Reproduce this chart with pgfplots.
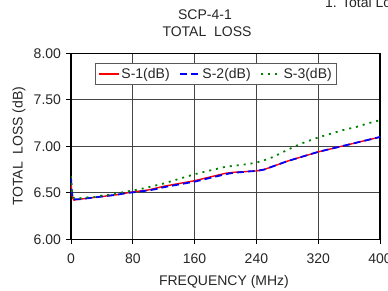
\documentclass[border=0pt]{standalone}
\usepackage{pgfplots}
\pgfplotsset{compat=1.18}
\usepackage{fontspec}
\setmainfont{Liberation Sans}
\definecolor{txt}{HTML}{262626}
\definecolor{gridc}{HTML}{444444}
\definecolor{sgreen}{HTML}{008000}
\newcommand\cf{\fontsize{14}{16.5}\selectfont}
\pgfplotstableread{
f v
0 6.62
1 6.50
2 6.45
3 6.43
4 6.42
6 6.425
10 6.43
20 6.44
30 6.45
40 6.46
50 6.47
60 6.48
70 6.495
80 6.51
90 6.52
100 6.53
110 6.55
120 6.57
130 6.585
140 6.60
150 6.615
160 6.63
170 6.65
180 6.67
190 6.69
200 6.71
210 6.72
220 6.725
230 6.73
240 6.735
250 6.75
260 6.78
270 6.81
280 6.84
290 6.865
300 6.89
310 6.915
320 6.94
330 6.96
340 6.98
350 7.00
360 7.02
370 7.04
380 7.06
390 7.08
400 7.10
}\sone
\pgfplotstableread{
f v
0 6.66
1 6.52
2 6.46
3 6.44
4 6.43
6 6.43
10 6.43
20 6.44
30 6.45
40 6.46
50 6.47
60 6.48
70 6.495
80 6.505
90 6.515
100 6.525
110 6.54
120 6.56
130 6.575
140 6.59
150 6.605
160 6.62
170 6.64
180 6.66
190 6.68
200 6.70
210 6.715
220 6.722
230 6.73
240 6.735
250 6.75
260 6.78
270 6.81
280 6.84
290 6.865
300 6.89
310 6.915
320 6.94
330 6.96
340 6.98
350 7.00
360 7.02
370 7.04
380 7.06
390 7.08
400 7.10
}\stwo
\pgfplotstableread{
f v
0 6.68
1 6.53
2 6.47
3 6.45
5 6.44
10 6.44
20 6.45
30 6.455
40 6.47
50 6.48
60 6.495
70 6.51
80 6.525
90 6.54
100 6.56
110 6.58
120 6.60
130 6.625
140 6.65
150 6.675
160 6.70
170 6.72
180 6.74
190 6.76
200 6.78
210 6.79
220 6.80
230 6.81
240 6.825
250 6.85
260 6.88
270 6.92
280 6.96
290 7.00
300 7.035
310 7.065
320 7.095
330 7.12
340 7.145
350 7.17
360 7.19
370 7.21
380 7.235
390 7.26
400 7.28
}\sthree
\begin{document}
\begin{tikzpicture}
\useasboundingbox (-71pt,-50.7pt) rectangle (317pt,239.3pt);
\begin{axis}[
  at={(0pt,0pt)}, anchor=south west,
  scale only axis, width=309pt, height=186pt,
  xmin=0, xmax=400, ymin=6, ymax=8,
  xtick={0,80,160,240,320,400},
  ytick={6,6.5,7,7.5,8},
  /pgf/number format/assume math mode=true,
  yticklabel style={/pgf/number format/fixed,/pgf/number format/fixed zerofill,/pgf/number format/precision=2, xshift=-2pt},
  xticklabel style={/pgf/number format/fixed,/pgf/number format/precision=0, yshift=-6pt},
  every tick label/.append style={text=txt, font=\cf},
  tick align=outside, major tick length=4.5pt,
  tick style={color=black, line width=0.8pt},
  xtick pos=bottom, ytick pos=left,
  grid=major,
  major grid style={color=gridc, line width=0.8pt},
  axis line style={black, line width=1.2pt},
  xlabel={FREQUENCY (MHz)},
  ylabel={TOTAL\ \ LOSS (dB)},
  xlabel style={at={(axis description cs:0.495,-0.23)}, anchor=center, text=txt, font=\cf},
  ylabel style={at={(axis description cs:-0.168,0.5)}, anchor=center, rotate=0, text=txt, font=\cf},
  legend columns=3,
  legend style={at={(axis description cs:0.469,0.889)}, anchor=center,
    draw=black!65, line width=0.8pt, fill=white, inner xsep=3pt, inner ysep=3pt,
    font=\cf, text=txt,
    /tikz/every even column/.append style={column sep=7pt}},
  legend image code/.code={\draw[#1] (0pt,0pt) -- (20pt,0pt);},
]
\addplot[red, line width=1.4pt] table[x=f,y=v] {\sone};
\addlegendentry{S-1(dB)}
\addplot[blue, line width=1.8pt, dash pattern=on 7pt off 4pt] table[x=f,y=v] {\stwo};
\addlegendentry{S-2(dB)}
\addplot[sgreen, line width=1.8pt, dash pattern=on 2pt off 5pt] table[x=f,y=v] {\sthree};
\addlegendentry{S-3(dB)}
\end{axis}
\node[text=txt, font=\cf] at (134pt,224.3pt) {SCP-4-1};
\node[text=txt, font=\cf] at (136pt,207.3pt) {TOTAL\ \ LOSS};
\node[text=txt, font=\cf, anchor=base west, inner sep=0pt] at (254pt,232pt) {1. Total Loss};
\end{tikzpicture}
\end{document}
